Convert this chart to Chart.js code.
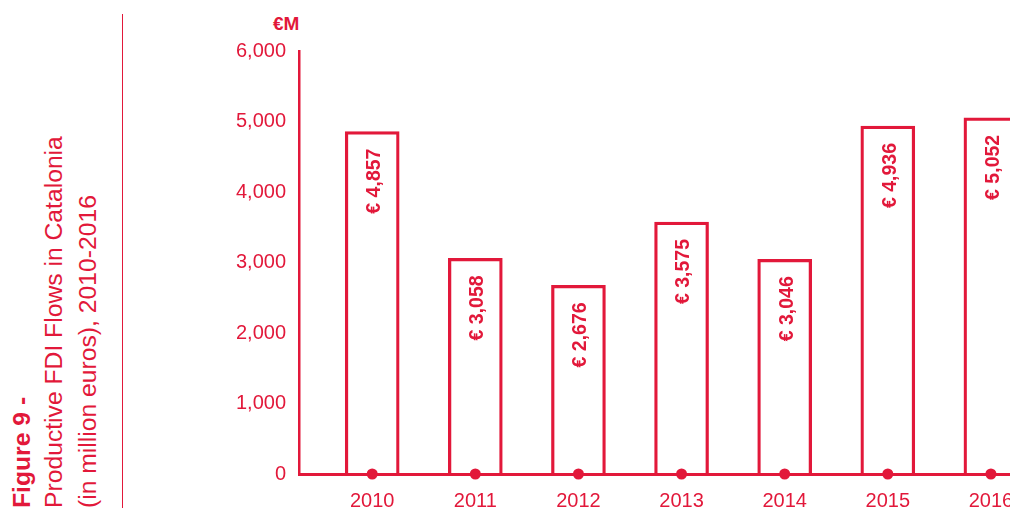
<!DOCTYPE html>
<html><head><meta charset="utf-8">
<script src="https://cdn.jsdelivr.net/npm/chart.js@4"></script>
<style>
html,body{margin:0;padding:0;background:#fff;overflow:hidden;}
#wrap{position:relative;width:1010px;height:511px;overflow:hidden;}
#c{position:absolute;left:0;top:0;}
.rot{position:absolute;transform-origin:0 0;transform:rotate(-90deg);white-space:nowrap;line-height:1;font-family:"Liberation Sans",Arial,sans-serif;color:#e2183a;font-size:24.7px;}
#vline{position:absolute;left:121.5px;top:14px;width:1px;height:494px;background:#e2183a;}
#unit{position:absolute;left:273px;top:13.5px;line-height:1;font-family:"Liberation Sans",Arial,sans-serif;font-weight:bold;font-size:19px;color:#e2183a;white-space:nowrap;}
</style></head>
<body>
<div id="wrap">
  <div class="rot" style="left:10px;top:508px;font-weight:bold">Figure 9 -</div>
  <div class="rot" style="left:42px;top:508px">Productive FDI Flows in Catalonia</div>
  <div class="rot" style="left:76px;top:508px">(in million euros), 2010-2016</div>
  <div id="vline"></div>
  <div id="unit">€M</div>
  <canvas id="c" width="1110" height="511"></canvas>
</div>
<script>
const years = [2010, 2011, 2012, 2013, 2014, 2015, 2016];
const flows = [4857, 3058, 2676, 3575, 3046, 4936, 5052];
const yTickValues = [0, 1000, 2000, 3000, 4000, 5000, 6000];

const RED = '#e2183a';
const FONT = '"Liberation Sans", Arial, sans-serif';

const barLabels = {
  id: 'barLabels',
  afterDatasetsDraw(chart) {
    const meta = chart.getDatasetMeta(0);
    const ctx = chart.ctx;
    ctx.save();
    ctx.font = 'bold 19.5px ' + FONT;
    ctx.fillStyle = RED;
    ctx.textAlign = 'right';
    ctx.textBaseline = 'middle';
    meta.data.forEach((bar, i) => {
      ctx.save();
      ctx.translate(bar.x + 2.5, bar.y + 17);
      ctx.rotate(-Math.PI / 2);
      ctx.fillText('€ ' + flows[i].toLocaleString('en-US'), 0, 0);
      ctx.restore();
    });
    ctx.restore();
  }
};

new Chart(document.getElementById('c'), {
  type: 'bar',
  data: {
    datasets: [
      {
        data: years.map((y, i) => ({ x: y, y: flows[i] })),
        backgroundColor: 'rgba(255,255,255,0)',
        borderColor: RED,
        borderWidth: 2.6,
        borderSkipped: 'start',
        barThickness: 54,
        order: 2
      },
      {
        type: 'line',
        data: years.map(y => ({ x: y, y: 0 })),
        showLine: false,
        pointRadius: 5.5,
        pointBackgroundColor: RED,
        pointBorderWidth: 0,
        clip: false,
        order: 1
      }
    ]
  },
  options: {
    responsive: false,
    animation: false,
    events: [],
    layout: { padding: { top: 51, left: 0, right: 50, bottom: 0 } },
    plugins: { legend: { display: false }, tooltip: { enabled: false } },
    scales: {
      x: {
        type: 'linear',
        offset: false,
        bounds: 'ticks',
        min: 2009.29,
        max: 2016.67,
        grid: { display: false, drawTicks: false, offset: false },
        border: { display: true, color: RED, width: 3 },
        ticks: {
          stepSize: 1,
          includeBounds: false,
          autoSkip: false,
          maxRotation: 0,
          callback: v => String(v),
          color: RED,
          font: { family: FONT, size: 20 },
          padding: 15
        },
        afterFit: s => { s.height = 37; }
      },
      y: {
        min: 0,
        max: 6000,
        afterBuildTicks: s => { s.ticks = yTickValues.map(v => ({ value: v })); },
        grid: { display: false, drawTicks: false },
        border: { display: true, color: RED, width: 2.5 },
        ticks: {
          callback: v => v.toLocaleString('en-US'),
          color: RED,
          font: { family: FONT, size: 20 },
          padding: 13
        },
        afterFit: s => { s.width = 299; }
      }
    }
  },
  plugins: [barLabels]
});
</script>
</body></html>
